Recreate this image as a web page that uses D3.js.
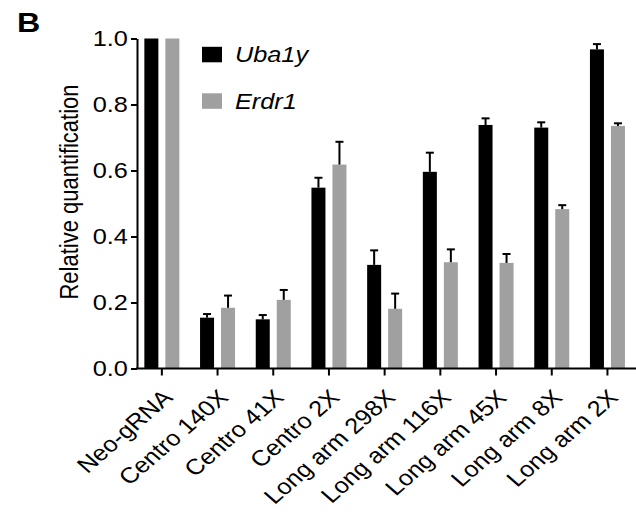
<!DOCTYPE html>
<html>
<head>
<meta charset="utf-8">
<script src="https://cdn.jsdelivr.net/npm/d3@7"></script>
<style>
body { margin: 0; background: #fff; }
text { font-family: "Liberation Sans", Arial, sans-serif; fill: #000; }
</style>
</head>
<body>
<script>
// data
var categories = ["Neo-gRNA", "Centro 140X", "Centro 41X", "Centro 2X", "Long arm 298X",
	"Long arm 116X", "Long arm 45X", "Long arm 8X", "Long arm 2X"];
var series = ["Uba1y", "Erdr1"];
var uba1y = [1.0, 0.154, 0.149, 0.548, 0.314, 0.596, 0.738, 0.730, 0.967];
var uba1yErr = [0, 0.011, 0.013, 0.030, 0.044, 0.058, 0.020, 0.016, 0.016];
var erdr1 = [1.0, 0.184, 0.208, 0.618, 0.181, 0.322, 0.320, 0.483, 0.735];
var erdr1Err = [0, 0.037, 0.030, 0.069, 0.046, 0.039, 0.027, 0.012, 0.008];
var yTicks = [0, 0.2, 0.4, 0.6, 0.8, 1.0];
var colors = ["#000000", "#a0a0a0"];

// the figure's text is a bit wider than it is tall
var sx = 1.15;

var canvas = d3.select("body")
	.append("svg")
	.attr("width", 636)
	.attr("height", 522);

var y = d3.scaleLinear().domain([0, 1]).range([368.5, 38.5]);
var x = d3.scaleBand().domain(categories).range([134, 635.3]);
var xs = d3.scaleBand().domain(series).range([-17.5, 17.5]).paddingInner(1 / 3);
var color = d3.scaleOrdinal().domain(series).range(colors);

var rows = [];
categories.forEach(function(c, i) {
	rows.push({cat: c, s: "Uba1y", v: uba1y[i], e: uba1yErr[i]});
	rows.push({cat: c, s: "Erdr1", v: erdr1[i], e: erdr1Err[i]});
});

function cx(c) { return x(c) + x.step() / 2; }
function bx(d) { return cx(d.cat) + xs(d.s); }

// bars
canvas.selectAll("rect.bar")
	.data(rows)
	.enter()
	.append("rect")
	.attr("class", "bar")
	.attr("x", bx)
	.attr("y", function(d) { return y(d.v); })
	.attr("width", xs.bandwidth())
	.attr("height", function(d) { return y(0) - y(d.v); })
	.attr("fill", function(d) { return color(d.s); });

// error bars (upper only)
var err = canvas.selectAll("g.err")
	.data(rows.filter(function(d) { return d.e > 0; }))
	.enter()
	.append("g")
	.attr("class", "err")
	.attr("stroke", "#000")
	.attr("stroke-width", 2);
err.append("line")
	.attr("x1", function(d) { return bx(d) + xs.bandwidth() / 2; })
	.attr("x2", function(d) { return bx(d) + xs.bandwidth() / 2; })
	.attr("y1", function(d) { return y(d.v); })
	.attr("y2", function(d) { return y(d.v + d.e); });
err.append("line")
	.attr("x1", function(d) { return bx(d) + xs.bandwidth() / 2 - 4; })
	.attr("x2", function(d) { return bx(d) + xs.bandwidth() / 2 + 4; })
	.attr("y1", function(d) { return y(d.v + d.e); })
	.attr("y2", function(d) { return y(d.v + d.e); });

// y axis
var yAxis = canvas.append("g")
	.attr("transform", "translate(137,0)")
	.call(d3.axisLeft(y).tickValues(yTicks).tickFormat(d3.format(".1f")).tickSize(6).tickSizeOuter(0).tickPadding(2));
yAxis.select(".domain").attr("stroke-width", 2);
yAxis.selectAll(".tick line").attr("stroke-width", 2);
yAxis.selectAll(".tick text")
	.attr("font-size", 22)
	.attr("fill", "#000")
	.attr("transform", "scale(" + sx + ",1)")
	.style("font-family", "'Liberation Sans', Arial, sans-serif");

// x axis
var xAxis = canvas.append("g")
	.attr("transform", "translate(0," + y(0) + ")");
xAxis.append("line")
	.attr("x1", 136).attr("x2", 636)
	.attr("y1", 0).attr("y2", 0)
	.attr("stroke", "#000").attr("stroke-width", 2);
xAxis.selectAll("line.tick")
	.data(categories)
	.enter()
	.append("line")
	.attr("class", "tick")
	.attr("x1", cx)
	.attr("x2", cx)
	.attr("y1", 0).attr("y2", 7)
	.attr("stroke", "#000").attr("stroke-width", 2);
xAxis.selectAll("text")
	.data(categories)
	.enter()
	.append("text")
	.attr("text-anchor", "end")
	.attr("font-size", 22)
	.attr("transform", function(c) {
		return "translate(" + (cx(c) + 12) + ",30.5) scale(" + sx + ",1) rotate(-45)";
	})
	.text(function(c) { return c; });

// y title
canvas.append("text")
	.attr("transform", "translate(78,192) scale(" + sx + ",1) rotate(-90)")
	.attr("text-anchor", "middle")
	.attr("font-size", 22)
	.text("Relative quantification");

// panel letter
canvas.append("text")
	.attr("transform", "translate(17,32) scale(" + sx + ",1)")
	.attr("font-size", 28)
	.attr("font-weight", "bold")
	.text("B");

// legend
var legend = canvas.selectAll("g.legend")
	.data(series)
	.enter()
	.append("g")
	.attr("class", "legend")
	.attr("transform", function(d, i) { return "translate(202," + (46.8 + i * 46.5) + ")"; });
legend.append("rect")
	.attr("width", 20).attr("height", 15.5)
	.attr("fill", function(d) { return color(d); });
legend.append("text")
	.attr("transform", "translate(33,15.5) scale(" + sx + ",1)")
	.attr("font-size", 22)
	.attr("font-style", "italic")
	.text(function(d) { return d; });
</script>
</body>
</html>
